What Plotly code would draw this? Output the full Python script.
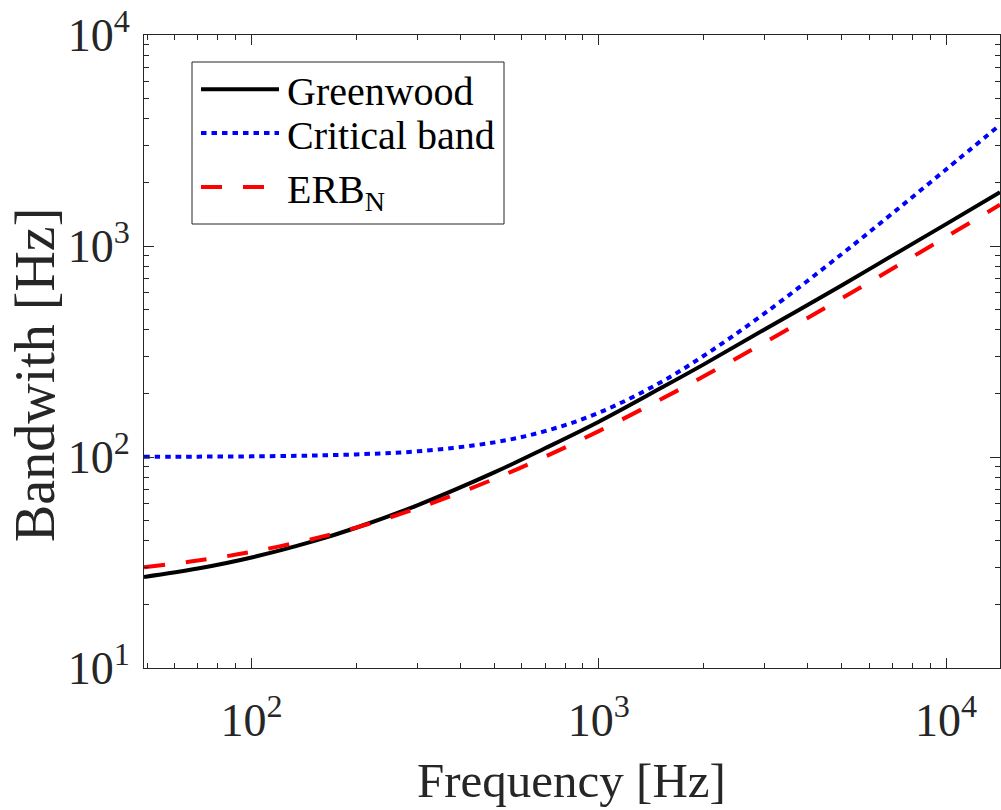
import math
import plotly.graph_objects as go

# ---- data ----
freq = [49, 70, 100, 150, 200, 300, 500, 700, 1000, 1500, 2000, 3000, 5000, 7000, 10000, 14300]
greenwood = [27.0, 29.6, 33.4, 39.8, 46.2, 59.0, 84.5, 110, 147, 211, 274, 402, 650, 900, 1270, 1800]
critical_band = [100.2, 100.4, 100.7, 101.6, 102.9, 106.4, 117.3, 132.6, 162, 225, 301, 479, 914, 1426, 2306, 3750]
erb_n = [30.0, 32.3, 35.5, 40.9, 46.3, 57.1, 78.7, 100.3, 132.6, 186.6, 240.6, 348.5, 564, 780, 1104, 1568]

series_names = ["Greenwood", "Critical band", "ERB<sub>N</sub>"]
series_colors = ["#000000", "#0000FF", "#FF0000"]
series_dash = ["solid", "5.5px,5px", "21px,21px"]

x_tickvals = [100, 1000, 10000]
x_ticktext = ["10<sup>2</sup>", "10<sup>3</sup>", "10<sup>4</sup>"]
y_tickvals = [10, 100, 1000, 10000]
y_ticktext = ["10<sup>1</sup>", "10<sup>2</sup>", "10<sup>3</sup>", "10<sup>4</sup>"]

x_title = "Frequency [Hz]"
y_title = "Bandwith [Hz]"

FONT = "Liberation Serif, Times New Roman, serif"
AX = "#262626"

x_minor = [m * 10 ** k for k in range(1, 5) for m in range(2, 10)]
y_minor = [m * 10 ** k for k in range(1, 4) for m in range(2, 10)]

fig = go.Figure()
for name, ys, col, dash in zip(series_names, [greenwood, critical_band, erb_n], series_colors, series_dash):
    fig.add_trace(go.Scatter(x=freq, y=ys, mode="lines", name=name,
                             line=dict(color=col, width=4, dash=dash, shape="spline", smoothing=1.0),
                             showlegend=False))

axis_common = dict(type="log", showline=True, linecolor=AX, linewidth=1, mirror="ticks",
                   ticks="inside", ticklen=10, tickwidth=1, tickcolor=AX,
                   showgrid=False, zeroline=False,
                   tickfont=dict(family=FONT, size=46, color=AX))

fig.update_xaxes(range=[math.log10(49), math.log10(14300)], tickmode="array",
                 tickvals=x_tickvals, ticktext=x_ticktext,
                 minor=dict(tickmode="array", tickvals=x_minor, ticks="inside", ticklen=5,
                            tickcolor=AX, showgrid=False),
                 ticklabelstandoff=12,
                 **axis_common)
fig.update_yaxes(range=[1, 4], tickmode="array", tickvals=y_tickvals, ticktext=y_ticktext,
                 minor=dict(tickmode="array", tickvals=y_minor, ticks="inside", ticklen=5,
                            tickcolor=AX, showgrid=False),
                 ticklabelstandoff=4,
                 **axis_common)

L, R, T, B = 144, 1, 35, 142
W, H = 1001, 810
PW, PH = W - L - R, H - T - B


def px(x):
    return (x - L) / PW


def py(y):
    return (H - B - y) / PH


annotations = [
    dict(text=x_title, x=px(571), y=py(780), xref="paper", yref="paper",
         xanchor="center", yanchor="middle", showarrow=False,
         font=dict(family=FONT, size=49, color=AX)),
    dict(text=y_title, x=px(35), y=py(375), xref="paper", yref="paper",
         xanchor="center", yanchor="middle", showarrow=False, textangle=-90,
         font=dict(family=FONT, size=56, color=AX)),
]
legend_rows = [89.3, 133, 187]
legend_text_y = [91, 136, 192]
shapes = [dict(type="rect", xref="paper", yref="paper", x0=px(192), x1=px(504), y0=py(224), y1=py(62),
               line=dict(color=AX, width=1), fillcolor="white", layer="above")]
for name, col, dash, ly, ty in zip(series_names, series_colors, series_dash, legend_rows, legend_text_y):
    shapes.append(dict(type="line", xref="paper", yref="paper", x0=px(201), x1=px(279),
                       y0=py(ly), y1=py(ly), line=dict(color=col, width=4, dash=dash), layer="above"))
    annotations.append(dict(text=name, x=px(285), y=py(ty), xref="paper", yref="paper",
                            xanchor="left", yanchor="middle", showarrow=False,
                            font=dict(family=FONT, size=40, color="#000000")))

fig.update_layout(width=W, height=H, margin=dict(l=L, r=R, t=T, b=B, pad=0),
                  plot_bgcolor="white", paper_bgcolor="white",
                  showlegend=False, annotations=annotations, shapes=shapes)

fig.write_html("out.html", config={"displayModeBar": False},
               post_script="document.body.style.margin='0';")
